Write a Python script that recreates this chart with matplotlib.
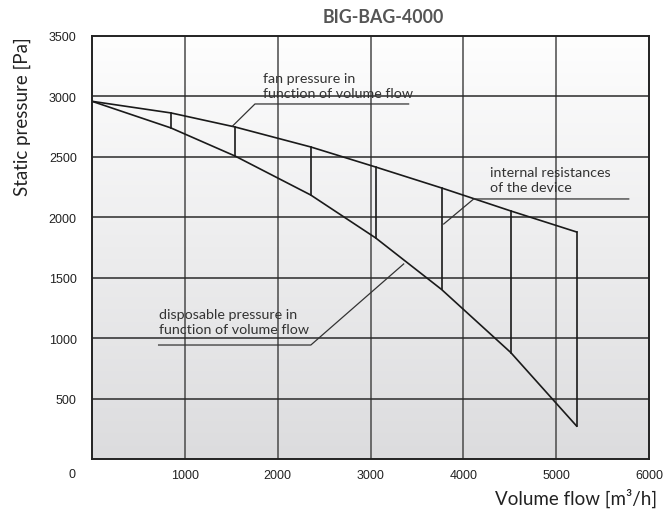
import numpy as np
import matplotlib
matplotlib.use("Agg")
import matplotlib.pyplot as plt

# Data
tie_flow = [850, 1540, 2355, 3055, 3765, 4510, 5220]
fan_pressure = [2864, 2748, 2583, 2417, 2244, 2054, 1880]
disp_pressure = [2740, 2508, 2186, 1831, 1405, 884, 276]
start_flow = 0
start_pressure = 2960

x_ticks = [1000, 2000, 3000, 4000, 5000, 6000]
y_ticks = [500, 1000, 1500, 2000, 2500, 3000, 3500]

title = "BIG-BAG-4000"
xlabel = "Volume flow [m³/h]"
ylabel = "Static pressure [Pa]"

fan_label = "fan pressure in\nfunction of volume flow"
fan_leader = ([1514, 1755, 3410], [2756, 2938, 2938])
int_label = "internal resistances\nof the device"
int_leader = ([3788, 4111, 5781], [1946, 2153, 2153])
disp_label = "disposable pressure in\nfunction of volume flow"
disp_leader = ([3357, 2357, 717], [1616, 946, 946])

fig = plt.figure(figsize=(6.64, 5.10), dpi=100)
ax = fig.add_axes([0.1386, 0.0971, 0.8389, 0.8304])
ax.set_xlim(0, 6000)
ax.set_ylim(0, 3500)

# gradient background
grad = np.linspace(0, 1, 256).reshape(-1, 1)
cmap = matplotlib.colors.LinearSegmentedColormap.from_list("bg", ["#dcdcde", "#fefefe"])
ax.imshow(grad, extent=[0, 1, 0, 1], transform=ax.transAxes, origin="lower",
          aspect="auto", cmap=cmap, zorder=0)

for xv in x_ticks[:-1]:
    ax.axvline(xv, color="#4a4a4a", lw=1.1, zorder=1)
for yv in y_ticks[:-1]:
    ax.axhline(yv, color="#2a2a2a", lw=1.1, zorder=1)

fx = [start_flow] + tie_flow
fy = [start_pressure] + fan_pressure
dy = [start_pressure] + disp_pressure
ax.plot(fx, fy, color="#1a1a1a", lw=1.2, zorder=3)
ax.plot(fx, dy, color="#1a1a1a", lw=1.2, zorder=3)
for xv, a, b in zip(tie_flow, fan_pressure, disp_pressure):
    ax.plot([xv, xv], [a, b], color="#1a1a1a", lw=1.2, zorder=3)

for (lx, ly) in (fan_leader, int_leader, disp_leader):
    ax.plot(lx, ly, color="#333333", lw=0.9, zorder=3)

tfont = dict(family="Lato", fontsize=10.3, color="#333333", linespacing=1.3)
ax.text(1840, 3090, fan_label, ha="left", va="center", zorder=4, **tfont)
ax.text(4290, 2310, int_label, ha="left", va="center", zorder=4, **tfont)
ax.text(717, 1140, disp_label, ha="left", va="center", zorder=4, **tfont)

for s in ax.spines.values():
    s.set_linewidth(1.4)
    s.set_color("#222222")
    s.set_zorder(5)

ax.set_xticks(x_ticks)
ax.set_yticks(y_ticks)
ax.tick_params(length=0, labelsize=9, labelcolor="#222222")
ax.tick_params(axis="x", pad=7)
ax.tick_params(axis="y", pad=11)
for lab in ax.get_xticklabels() + ax.get_yticklabels():
    lab.set_family("Liberation Sans")
ax.text(-0.036, -0.034, "0", transform=ax.transAxes, ha="center", va="center",
        fontsize=9, family="Liberation Sans", color="#222222")

fig.text(0.578, 0.965, title, ha="center", va="center", fontsize=12.8,
         fontweight="bold", family="Lato", color="#555555")
fig.text(0.989, 0.022, xlabel, ha="right", va="center", fontsize=13.5,
         family="Lato", color="#222222")
fig.text(0.033, 0.771, ylabel, ha="center", va="center", rotation=90,
         fontsize=13.5, family="Lato", color="#222222")

fig.savefig("out.png", dpi=100)
